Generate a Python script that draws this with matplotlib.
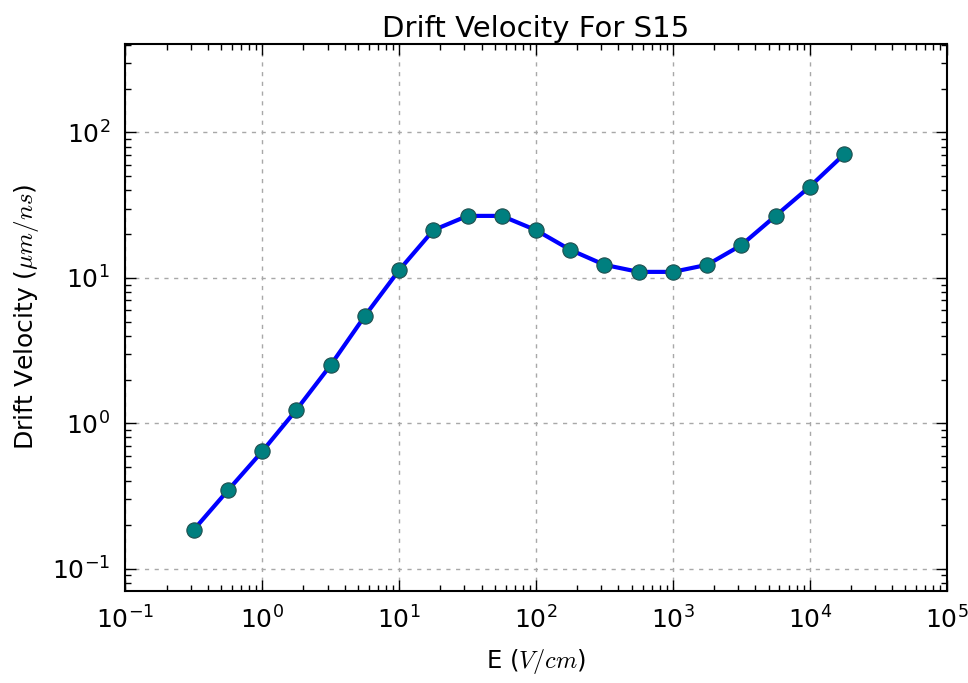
import matplotlib
matplotlib.use("Agg")
import matplotlib.pyplot as plt
import numpy as np

# Data
E_field = [0.316, 0.562, 1.0, 1.78, 3.16, 5.62, 10.0, 17.8, 31.6, 56.2,
           100.0, 178.0, 316.0, 562.0, 1000.0, 1780.0, 3160.0, 5620.0, 10000.0, 17800.0]
drift_velocity = [0.185, 0.346, 0.641, 1.24, 2.51, 5.47, 11.3, 21.3, 26.7, 26.7,
                  21.3, 15.6, 12.3, 11.0, 11.0, 12.3, 16.8, 26.7, 42.4, 70.8]

title = "Drift Velocity For S15"
xlabel = r"E ($V/cm$)"
ylabel = r"Drift Velocity ($\mu m/ns$)"

plt.rcParams['mathtext.fontset'] = 'cm'
plt.rcParams['font.family'] = ['DejaVu Sans']
plt.rcParams['axes.unicode_minus'] = False
plt.rcParams['xtick.direction'] = 'in'
plt.rcParams['ytick.direction'] = 'in'
plt.rcParams['xtick.top'] = True
plt.rcParams['ytick.right'] = True

fig = plt.figure(figsize=(9.68, 6.83), dpi=100)
ax = fig.add_axes([125.3/968, 1 - 590.7/683, (946.7-125.3)/968, (590.7-43.7)/683])

ax.plot(E_field, drift_velocity, '-', color='#0000ff', lw=3, zorder=3)
ax.plot(E_field, drift_velocity, 'o', color='#007f7f', markeredgecolor='#1f4f4f',
        markeredgewidth=0.8, markersize=11, zorder=4)

ax.set_xscale('log')
ax.set_yscale('log')
ax.set_xlim(0.1, 1e5)
ax.set_ylim(0.0706, 408)

ax.grid(True, which='major', color='#a8a8a8', linestyle=(0, (3, 4)), linewidth=1)
ax.tick_params(which='major', length=8, width=1, labelsize=18, pad=11)
ax.tick_params(which='minor', length=4, width=1)
for s in ax.spines.values():
    s.set_linewidth(1.5)

ax.set_title(title, fontsize=21, pad=5)
ax.set_xlabel(xlabel, fontsize=17.5, labelpad=10)
ax.set_ylabel(ylabel, fontsize=18, labelpad=8)

fig.savefig("out.png", dpi=100)
